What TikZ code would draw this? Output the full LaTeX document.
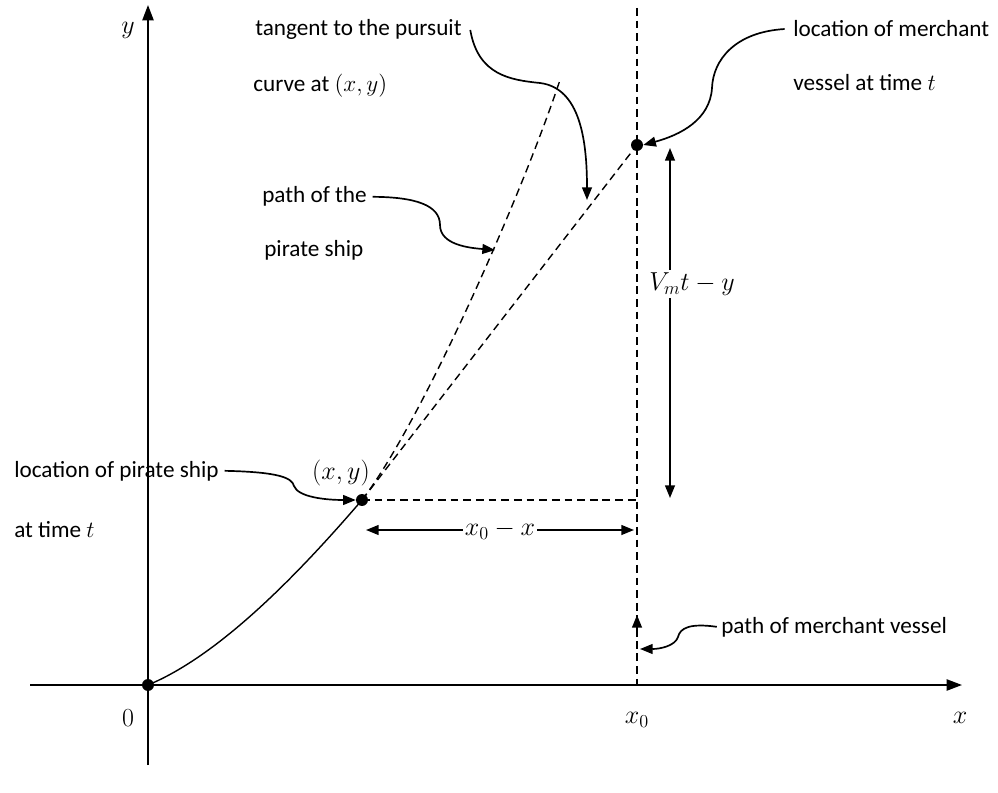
\RequirePackage{fix-cm}
\documentclass[tikz,border=0pt]{standalone}
\usepackage{fontspec}
\setmainfont{Carlito}
\usetikzlibrary{arrows.meta}

\tikzset{
  lbl/.style={anchor=base west, inner sep=0pt, font=\fontsize{16.5}{19}\selectfont},
  mlbl/.style={inner sep=1.5pt, font=\fontsize{18.5}{21}\selectfont},
  dashline/.style={line width=1pt, dash pattern={on 5.5pt off 3.5pt}},
  callout/.style={line width=1.2pt, -{Triangle[length=9pt,width=7pt]}},
  dimarrow/.style={line width=1.2pt, {Triangle[length=9pt,width=7pt]}-{Triangle[length=9pt,width=7pt]}},
  axis/.style={line width=1.3pt, -{Triangle[length=11pt,width=8pt]}},
  dot/.style={circle, fill, inner sep=0pt, minimum size=8.5pt},
}

\begin{document}
\begin{tikzpicture}[x=0.025cm, y=-0.025cm]
    \useasboundingbox (0, 0) rectangle (998, 793);
    % Axes:
    \draw[axis] (30, 685) -- (962, 685);
    \draw[axis] (148, 765) -- (148, 5);
    \node[mlbl](Ly) at (128, 30){$y$};
    \node[mlbl](Lx) at (960, 718){$x$};
    \node[mlbl](L0) at (128, 718){$0$};
    \node[mlbl](Lx0) at (637, 720){$x_0$};
    % Points and paths:
    \coordinate (O) at (148, 685);
    \coordinate (P) at (362, 500);
    \coordinate (M) at (637, 145);
    \coordinate (Vtop) at (637, 8);
    \coordinate (Vbot) at (637, 685);
    \coordinate (Pend) at (560, 80);
    \draw[dashline] (Vtop) -- (Vbot);
    \draw[line width=1pt] (O) .. controls (218, 656) and (295, 578) .. (P);
    \draw[dashline] (P) .. controls (420, 425) and (520, 200) .. (Pend);
    \draw[dashline] (P) -- (M);
    \draw[dashline] (P) -- (P -| Vbot);
    \node[dot](NO) at (O){};
    \node[dot](NP) at (P){};
    \node[dot](NM) at (M){};
    \node[mlbl](Lxy) at (341, 473){$(x, y)$};
    % Distances:
    \coordinate (Dl) at (366, 530);
    \coordinate (Dr) at (634, 530);
    \draw[dimarrow] (Dl) -- (Dr) node[midway, mlbl, fill=white](Ldx){$x_0 - x$};
    \coordinate (Ht) at (670, 148);
    \coordinate (Hb) at (670, 498);
    \draw[dimarrow] (Ht) -- (Hb);
    \node[mlbl, fill=white, inner xsep=0.5pt](Ldy) at (692, 284){$V_m t - y$};
    % Labels and callouts:
    \node[lbl](Ltan1) at (255, 36){tangent to the pursuit};
    \node[lbl](Ltan2) at (253, 92){curve at $(x, y)$};
    \node[lbl](Lpath1) at (262, 203){path of the};
    \node[lbl](Lpath2) at (264, 257){pirate ship};
    \node[lbl](Lmv1) at (793, 37){location of merchant};
    \node[lbl](Lmv2) at (793, 91){vessel at time $t$};
    \node[lbl](Lps1) at (14, 477){location of pirate ship};
    \node[lbl](Lps2) at (14, 537){at time $t$};
    \node[lbl](Lmp) at (721, 633){path of merchant vessel};
    \draw[callout] ([xshift=6pt]Ltan1.east) .. controls (478, 75) and (510, 80) .. (540, 83) .. controls (580, 88) and (587, 140) .. (587, 200);
    \draw[callout] ([xshift=4pt]Lpath1.east) .. controls (415, 197) and (440, 205) .. (440, 225) .. controls (440, 245) and (470, 248) .. (495, 250);
    \draw[callout] ([xshift=-6pt]Lmv1.west) .. controls (735, 32) and (713, 60) .. (712, 88) .. controls (710, 120) and (680, 135) .. (NM.east);
    \draw[callout] ([xshift=4pt]Lps1.east) .. controls (280, 472) and (292, 478) .. (294, 486) .. controls (298, 497) and (325, 500) .. (NP.west);
    \draw[callout] ([xshift=-3pt]Lmp.west) .. controls (690, 623) and (680, 628) .. (678, 637) .. controls (675, 646) and (660, 649) .. (640, 649);
    \draw[callout] (637, 637) -- (637, 615);
\end{tikzpicture}
\end{document}
